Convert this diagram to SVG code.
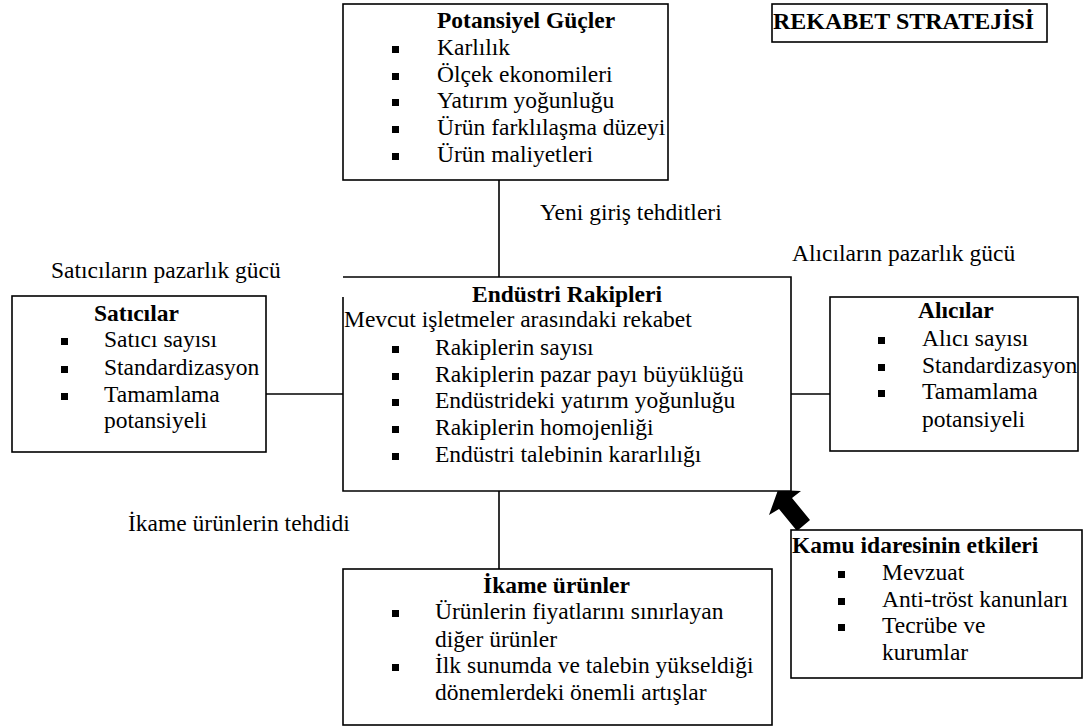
<svg xmlns="http://www.w3.org/2000/svg" width="1086" height="727" viewBox="0 0 1086 727">
  <style>
    .box { fill: #fff; stroke: #000; stroke-width: 1.6; }
    .edge { fill: none; stroke: #000; stroke-width: 1.6; }
    text { font-family: "Liberation Serif", serif; font-size: 23.5px; fill: #000; }
    .title { font-weight: bold; }
    .bul { fill: #000; }
  </style>
  <defs>
    <rect id="b" class="bul" width="7" height="7"/>
  </defs>
  <rect width="1086" height="727" fill="#fff"/>

  <!-- connectors -->
  <g id="connectors">
    <line class="edge" x1="499" y1="180" x2="499" y2="277"/>
    <line class="edge" x1="266" y1="394" x2="343" y2="394"/>
    <line class="edge" x1="791" y1="394" x2="830" y2="394"/>
    <line class="edge" x1="499" y1="491" x2="499" y2="569"/>
    <!-- block arrow: government influence -> industry rivals -->
    <polygon fill="#000" points="778,490 801,491 792,498 810,520 797,531 779,509 769,515"/>
  </g>

  <!-- edge labels -->
  <g id="labels">
    <text x="540" y="220">Yeni giriş tehditleri</text>
    <text x="792" y="261">Alıcıların pazarlık gücü</text>
    <text x="51" y="278">Satıcıların pazarlık gücü</text>
    <text x="128" y="531">İkame ürünlerin tehdidi</text>
  </g>

  <!-- strategy heading -->
  <g id="heading">
    <rect class="box" x="772" y="4" width="275" height="38"/>
    <text class="title" x="773" y="29" style="font-size:24px">REKABET STRATEJİSİ</text>
  </g>

  <!-- potential forces -->
  <g id="potential">
    <rect class="box" x="343" y="4" width="325" height="176"/>
    <text class="title" x="437" y="28">Potansiyel Güçler</text>
    <use href="#b" x="392" y="46"/><text x="437" y="55">Karlılık</text>
    <use href="#b" x="392" y="73"/><text x="437" y="82">Ölçek ekonomileri</text>
    <use href="#b" x="392" y="99"/><text x="437" y="108">Yatırım yoğunluğu</text>
    <use href="#b" x="392" y="126"/><text x="437" y="135">Ürün farklılaşma düzeyi</text>
    <use href="#b" x="392" y="153"/><text x="437" y="162">Ürün maliyetleri</text>
  </g>

  <!-- suppliers -->
  <g id="suppliers">
    <rect class="box" x="12" y="296" width="254" height="156"/>
    <text class="title" x="94" y="321">Satıcılar</text>
    <use href="#b" x="61" y="338"/><text x="104" y="347">Satıcı sayısı</text>
    <use href="#b" x="61" y="366"/><text x="104" y="375">Standardizasyon</text>
    <use href="#b" x="61" y="393"/><text x="104" y="402">Tamamlama</text>
    <text x="104" y="428">potansiyeli</text>
  </g>

  <!-- industry rivals -->
  <g id="rivals">
    <rect x="343" y="277" width="448" height="214" fill="#fff"/>
    <path class="edge" d="M343,297 V491 H791 V277 H343"/>
    <text class="title" x="472" y="302">Endüstri Rakipleri</text>
    <text x="344" y="327">Mevcut işletmeler arasındaki rekabet</text>
    <use href="#b" x="392" y="346"/><text x="435" y="355">Rakiplerin sayısı</text>
    <use href="#b" x="392" y="373"/><text x="435" y="382">Rakiplerin pazar payı büyüklüğü</text>
    <use href="#b" x="392" y="399"/><text x="435" y="408">Endüstrideki yatırım yoğunluğu</text>
    <use href="#b" x="392" y="426"/><text x="435" y="435">Rakiplerin homojenliği</text>
    <use href="#b" x="392" y="453"/><text x="435" y="462">Endüstri talebinin kararlılığı</text>
  </g>

  <!-- buyers -->
  <g id="buyers">
    <rect class="box" x="830" y="297" width="248" height="154"/>
    <text class="title" x="918" y="318">Alıcılar</text>
    <use href="#b" x="878" y="337"/><text x="922" y="346">Alıcı sayısı</text>
    <use href="#b" x="878" y="364"/><text x="922" y="373">Standardizasyon</text>
    <use href="#b" x="878" y="390"/><text x="922" y="399">Tamamlama</text>
    <text x="922" y="427">potansiyeli</text>
  </g>

  <!-- substitutes -->
  <g id="substitutes">
    <rect class="box" x="343" y="569" width="429" height="156"/>
    <text class="title" x="483" y="593">İkame ürünler</text>
    <use href="#b" x="392" y="610"/><text x="435" y="619">Ürünlerin fiyatlarını sınırlayan</text>
    <text x="435" y="647">diğer ürünler</text>
    <use href="#b" x="392" y="664"/><text x="435" y="673">İlk sunumda ve talebin yükseldiği</text>
    <text x="435" y="700">dönemlerdeki önemli artışlar</text>
  </g>

  <!-- government influence -->
  <g id="government">
    <rect class="box" x="791" y="530" width="291" height="148"/>
    <text class="title" x="792" y="553">Kamu idaresinin etkileri</text>
    <use href="#b" x="838" y="571"/><text x="882" y="580">Mevzuat</text>
    <use href="#b" x="838" y="598"/><text x="882" y="607">Anti-tröst kanunları</text>
    <use href="#b" x="838" y="624"/><text x="882" y="633">Tecrübe ve</text>
    <text x="882" y="660">kurumlar</text>
  </g>
</svg>
